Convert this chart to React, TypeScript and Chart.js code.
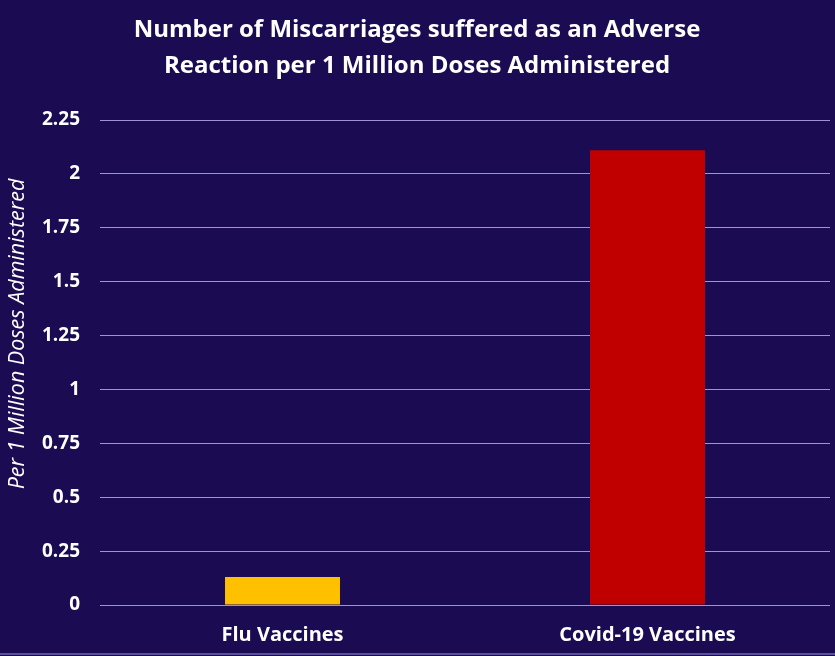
import React, { useEffect, useRef } from "react";
import { Chart, registerables } from "chart.js";

Chart.register(...registerables);

const categories = ["Flu Vaccines", "Covid-19 Vaccines"];
const values = [0.13, 2.11];
const barColors = ["#FFC000", "#C00000"];
const titleLines = [
  "Number of Miscarriages suffered as an Adverse",
  "Reaction per 1 Million Doses Administered",
];
const yAxisTitle = "Per 1 Million Doses Administered";

const bgPlugin = {
  id: "bg",
  beforeDraw(chart: any) {
    const ctx = chart.ctx;
    ctx.save();
    ctx.fillStyle = "#1b0b52";
    ctx.fillRect(0, 0, chart.width, chart.height);
    ctx.fillStyle = "#5a4f9a";
    ctx.fillRect(0, chart.height - 3, chart.width, 2);
    ctx.restore();
  },
  afterDraw(chart: any) {
    const ctx = chart.ctx;
    ctx.save();
    ctx.translate(18, 334);
    ctx.rotate(-Math.PI / 2);
    ctx.fillStyle = "#ffffff";
    ctx.font = "italic 21.5px 'Open Sans'";
    ctx.textAlign = "center";
    ctx.textBaseline = "middle";
    ctx.fillText(yAxisTitle, 0, 0);
    ctx.restore();
  },
};

export default function App() {
  const ref = useRef<HTMLCanvasElement>(null);
  useEffect(() => {
    document.body.style.margin = "0";
    const chart = new Chart(ref.current!, {
      type: "bar",
      data: {
        labels: categories,
        datasets: [
          {
            data: values,
            backgroundColor: barColors,
            categoryPercentage: 1,
            barPercentage: 0.315,
          },
        ],
      },
      plugins: [bgPlugin],
      options: {
        responsive: false,
        animation: false,
        layout: { padding: { left: 4, right: 5, top: 8, bottom: 0 } },
        plugins: {
          legend: { display: false },
          tooltip: { enabled: false },
          title: {
            display: true,
            text: titleLines,
            color: "#ffffff",
            font: { family: "Open Sans", size: 24, weight: "bold", lineHeight: 1.5 },
            padding: { top: 4, bottom: 36 },
          },
        },
        scales: {
          x: {
            grid: { display: false, drawTicks: false },
            border: { display: false },
            afterFit(scale: any) {
              scale.height = 51;
            },
            ticks: {
              color: "#ffffff",
              font: { family: "Open Sans", size: 20, weight: "bold" },
              padding: 18,
            },
          },
          y: {
            min: 0,
            max: 2.25,
            afterFit(scale: any) {
              scale.width = 96;
            },
            ticks: {
              stepSize: 0.25,
              color: "#ffffff",
              font: { family: "Open Sans", size: 19, weight: "bold" },
              padding: 20,
              callback: (v: any) => String(Number(v)),
            },
            grid: { color: "#9d94d6", lineWidth: 1, drawTicks: false },
            border: { display: false },
          },
        },
      },
    } as any);
    return () => chart.destroy();
  }, []);
  return <canvas ref={ref} width={835} height={656} style={{ display: "block" }} />;
}
